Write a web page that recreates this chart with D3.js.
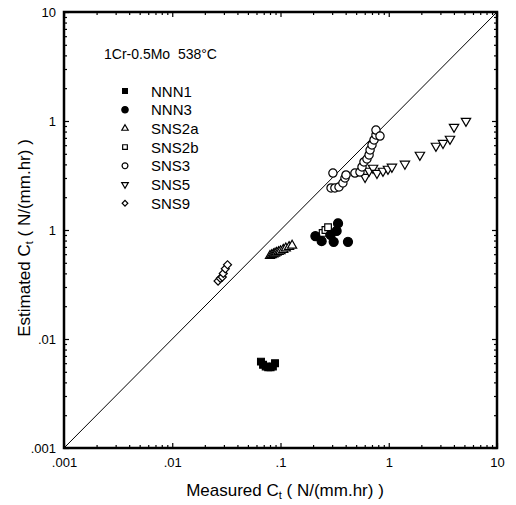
<!DOCTYPE html>
<html><head><meta charset="utf-8">
<script src="https://cdn.jsdelivr.net/npm/d3@7"></script>
<style>body{margin:0;background:#fff}svg{display:block}text{font-family:"Liberation Sans",Arial,sans-serif;fill:#000}</style>
</head><body>
<svg id="c" width="516" height="505"></svg>
<script>
const seriesNames = ["NNN1","NNN3","SNS2a","SNS2b","SNS3","SNS5","SNS9"];
const nnn1X = [0.066,0.069,0.073,0.077,0.081,0.085,0.089];
const nnn1Y = [0.0062,0.0058,0.0056,0.0055,0.0055,0.0056,0.0060];
const nnn3X = [0.21,0.24,0.29,0.31,0.33,0.34,0.42];
const nnn3Y = [0.088,0.079,0.090,0.078,0.098,0.115,0.078];
const sns2aX = [0.080,0.083,0.086,0.089,0.092,0.096,0.100,0.106,0.112,0.120,0.128];
const sns2aY = [0.058,0.059,0.060,0.061,0.062,0.063,0.064,0.066,0.068,0.070,0.072];
const sns2bX = [0.245,0.26,0.275];
const sns2bY = [0.094,0.100,0.106];
const sns3X = [0.305,0.293,0.318,0.347,0.377,0.394,0.403,0.487,0.542,0.566,0.590,0.629,0.658,0.672,0.700,0.731,0.762,0.762,0.830];
const sns3Y = [0.333,0.243,0.243,0.248,0.270,0.300,0.320,0.333,0.340,0.379,0.421,0.448,0.488,0.542,0.603,0.670,0.745,0.826,0.728];
const sns5X = [0.604,0.658,0.716,0.778,0.885,0.984,1.07,1.41,1.94,2.73,3.17,3.68,4.01,5.17];
const sns5Y = [0.306,0.348,0.371,0.333,0.348,0.363,0.379,0.404,0.488,0.590,0.628,0.684,0.881,1.0];
const sns9X = [0.0265,0.0278,0.0290,0.0296,0.0309,0.0324];
const sns9Y = [0.034,0.036,0.037,0.040,0.044,0.048];
const xTickValues = [0.001,0.01,0.1,1,10];
const xTickLabels = [".001",".01",".1","1","10"];
const yTickValues = [0.001,0.01,0.1,1,10];
const yTickLabels = [".001",".01","1","1","10"];
const titleText = "1Cr-0.5Mo  538\u00B0C";

const svg = d3.select("#c");
const L=64,R=497,T=12,B=448;
const x = d3.scaleLog().domain([0.001,10]).range([L,R]);
const y = d3.scaleLog().domain([0.001,10]).range([B,T]);
const minors = [];
for (let e=-3;e<1;e++) for (let m=2;m<10;m++) minors.push(m*Math.pow(10,e));

function drawAxis(axisFn, scale, tr, vals, size, labels){
  const a = axisFn(scale).tickValues(vals).tickSizeInner(-size).tickSizeOuter(0).tickPadding(8)
    .tickFormat(labels ? (d,i)=>labels[i] : ()=> "");
  const g = svg.append("g").attr("transform",tr).call(a);
  g.select(".domain").remove();
  g.selectAll("line").attr("stroke","#000").attr("stroke-width",1.2);
  g.selectAll("text").style("font-size","13px").style("font-family","'Liberation Sans',Arial,sans-serif");
  return g;
}
drawAxis(d3.axisBottom,x,`translate(0,${B})`,xTickValues,5,xTickLabels).selectAll("text").attr("dy","0.85em");
drawAxis(d3.axisBottom,x,`translate(0,${B})`,minors,3,null);
drawAxis(d3.axisTop,x,`translate(0,${T})`,xTickValues,5,null);
drawAxis(d3.axisTop,x,`translate(0,${T})`,minors,3,null);
drawAxis(d3.axisLeft,y,`translate(${L},0)`,yTickValues,5,yTickLabels);
drawAxis(d3.axisLeft,y,`translate(${L},0)`,minors,3,null);
drawAxis(d3.axisRight,y,`translate(${R},0)`,yTickValues,5,null);
drawAxis(d3.axisRight,y,`translate(${R},0)`,minors,3,null);

svg.append("rect").attr("x",L).attr("y",T).attr("width",R-L).attr("height",B-T)
  .attr("fill","none").attr("stroke","#000").attr("stroke-width",2.5);

svg.append("line").attr("x1",x(0.001)).attr("y1",y(0.001)).attr("x2",x(10)).attr("y2",y(10))
  .attr("stroke","#000").attr("stroke-width",1);

const sym = {
  NNN1:{type:d3.symbolSquare,fill:"#000",size:46},
  NNN3:{type:d3.symbolCircle,fill:"#000",size:64},
  SNS2a:{type:d3.symbolTriangle,fill:"#fff",size:36},
  SNS2b:{type:d3.symbolSquare,fill:"#fff",size:44},
  SNS3:{type:d3.symbolCircle,fill:"#fff",size:54},
  SNS5:{type:"down",fill:"#fff",size:38},
  SNS9:{type:"diamond",fill:"#fff",size:32}
};
function pathFor(s, scale){
  const sz = s.size*(scale||1);
  if (s.type==="down") return d3.symbol(d3.symbolTriangle,sz)();
  if (s.type==="diamond") return d3.symbol(d3.symbolSquare,sz)();
  return d3.symbol(s.type,sz)();
}
function rot(s){ return s.type==="down" ? " rotate(180)" : s.type==="diamond" ? " rotate(45)" : ""; }

const data = {NNN1:[nnn1X,nnn1Y],NNN3:[nnn3X,nnn3Y],SNS2a:[sns2aX,sns2aY],SNS2b:[sns2bX,sns2bY],SNS3:[sns3X,sns3Y],SNS5:[sns5X,sns5Y],SNS9:[sns9X,sns9Y]};
const order = ["SNS9","SNS2a","SNS5","SNS3","SNS2b","NNN3","NNN1"];
order.forEach(n=>{
  const s=sym[n]; const [xs,ys]=data[n];
  svg.append("g").selectAll("path").data(xs.map((v,i)=>[v,ys[i]])).join("path")
    .attr("d",pathFor(s))
    .attr("transform",d=>`translate(${x(d[0])},${y(d[1])})${rot(s)}`)
    .attr("fill",s.fill).attr("stroke","#000").attr("stroke-width",1.2);
});

// legend
svg.append("text").attr("x",104).attr("y",59).style("font-size","14px").style("white-space","pre").text(titleText);
seriesNames.forEach((n,i)=>{
  const yy = 91 + i*18.7;
  const s = sym[n];
  svg.append("path").attr("d",pathFor(s,0.5)).attr("transform",`translate(125,${yy})${rot(s)}`)
    .attr("fill",s.fill).attr("stroke","#000").attr("stroke-width",1.2);
  svg.append("text").attr("x",151).attr("y",yy+5.5).style("font-size","15px").text(n);
});

// axis titles
const xt = svg.append("text").attr("x",285).attr("y",496).attr("text-anchor","middle").style("font-size","17px");
xt.append("tspan").text("Measured C");
xt.append("tspan").attr("font-size","11px").attr("dy","3").text("t");
xt.append("tspan").attr("dy","-3").text(" ( N/(mm.hr) )");
const yt = svg.append("text").attr("transform","translate(30,238) rotate(-90)").attr("text-anchor","middle").style("font-size","17px");
yt.append("tspan").text("Estimated C");
yt.append("tspan").attr("font-size","11px").attr("dy","3").text("t");
yt.append("tspan").attr("dy","-3").text(" ( N/(mm.hr) )");
</script>
</body></html>
